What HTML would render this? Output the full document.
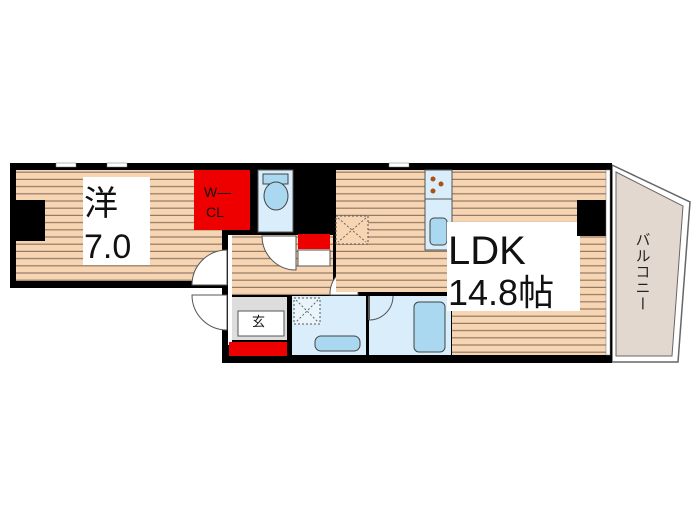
<!DOCTYPE html>
<html><head><meta charset="utf-8"><style>body{margin:0;background:#fff}svg{display:block}</style></head><body>
<svg width="700" height="525" viewBox="0 0 700 525" xmlns="http://www.w3.org/2000/svg" font-family="Liberation Sans, Noto Sans CJK JP, sans-serif">
<defs>
<pattern id="wood" width="10" height="7.2" patternUnits="userSpaceOnUse">
<rect width="10" height="7.2" fill="#f7d4b2"/><rect y="6" width="10" height="1.2" fill="#8f7a66"/>
</pattern>
</defs>
<polygon points="612,165 690,202 678,362 612,362" fill="#fff" stroke="#666" stroke-width="1.5"/>
<polygon points="616,172 683,206 672,356 616,356" fill="#e2d8cf" stroke="#666" stroke-width="1"/>
<text x="642" y="232" font-size="15" fill="#222" writing-mode="tb" letter-spacing="1">バルコニー</text>
<rect x="10" y="163" width="218" height="125" fill="#000"/>
<rect x="222" y="163" width="390" height="200" fill="#000"/>
<rect x="16" y="170" width="206" height="111" fill="url(#wood)"/>
<rect x="16" y="200" width="29" height="41" fill="#000"/>
<rect x="83" y="177" width="67" height="88" fill="#fff"/>
<text x="84" y="215" font-size="34" fill="#111">洋</text>
<text x="84" y="258" font-size="34" fill="#111">7.0</text>
<rect x="56" y="163" width="20" height="4" fill="#fff" stroke="#777" stroke-width=".5"/>
<rect x="107" y="163" width="20" height="4" fill="#fff" stroke="#777" stroke-width=".5"/>
<rect x="194" y="170" width="56" height="60" fill="#e00"/>
<text x="204" y="197" font-size="14" fill="#111">W—</text>
<text x="206" y="217" font-size="14" fill="#111">CL</text>
<rect x="258" y="170" width="35" height="62" fill="#d9eefa" stroke="#555" stroke-width="1"/>
<rect x="263" y="174" width="25" height="10" fill="#a9d8f0" stroke="#444"/>
<ellipse cx="276" cy="196" rx="12" ry="14" fill="#a9d8f0" stroke="#444"/>
<rect x="228" y="235" width="105" height="60" fill="url(#wood)"/>
<rect x="228" y="235" width="4" height="110" fill="#fff"/>
<rect x="298" y="234" width="32" height="15" fill="#e00"/>
<rect x="298" y="250" width="32" height="16" fill="#fff" stroke="#555"/>
<path d="M192,285 A35,35 0 0 1 227,250 L227,285 Z" fill="#fff" stroke="#555"/>
<path d="M262,236 A34,34 0 0 0 296,270 L296,236 Z" fill="#fff" stroke="#555"/>
<path d="M192,295 A35,35 0 0 0 227,330 L227,295 Z" fill="#fff" stroke="#555"/>
<path d="M330,295 A28,28 0 0 1 358,266 L358,295 Z" fill="#fff" stroke="#555"/>
<rect x="232" y="297" width="55" height="43" fill="#ddd"/>
<rect x="238" y="311" width="46" height="25" fill="#fff" stroke="#555"/>
<text x="252" y="326" font-size="13" fill="#111">玄</text>
<rect x="229" y="342" width="58" height="14" fill="#e00"/>
<rect x="292" y="296" width="74" height="59" fill="#d9eefa"/>
<rect x="294" y="298" width="26" height="26" fill="#e9f5fb" stroke="#555" stroke-dasharray="2,2"/>
<line x1="296" y1="300" x2="318" y2="322" stroke="#666" stroke-dasharray="2,2"/>
<line x1="318" y1="300" x2="296" y2="322" stroke="#666" stroke-dasharray="2,2"/>
<rect x="315" y="336" width="45" height="15" rx="6" fill="#a9d8f0" stroke="#444"/>
<rect x="369" y="296" width="82" height="59" fill="#d9eefa"/>
<line x1="369" y1="296" x2="369" y2="320" stroke="#555" stroke-width="2"/>
<path d="M369,320 A24,24 0 0 0 393,296" fill="none" stroke="#555"/>
<rect x="414" y="302" width="31" height="50" rx="5" fill="#a9d8f0" stroke="#444"/>
<rect x="336" y="170" width="270" height="122" fill="url(#wood)"/>
<rect x="452" y="292" width="154" height="63" fill="url(#wood)"/>
<rect x="336" y="216" width="32" height="28" fill="#f7d4b2" stroke="#555" stroke-dasharray="2,2"/>
<line x1="338" y1="218" x2="366" y2="242" stroke="#666" stroke-dasharray="2,2"/>
<line x1="366" y1="218" x2="338" y2="242" stroke="#666" stroke-dasharray="2,2"/>
<rect x="425" y="170" width="27" height="80" fill="#d9eefa" stroke="#555"/>
<line x1="425" y1="199" x2="452" y2="199" stroke="#555"/>
<circle cx="433" cy="179" r="2.5" fill="#b05010"/><circle cx="441" cy="184" r="2.5" fill="#b05010"/><circle cx="433" cy="191" r="2.5" fill="#b05010"/>
<rect x="430" y="218" width="17" height="27" rx="4" fill="#a9d8f0" stroke="#444"/>
<rect x="447" y="222" width="133" height="89" fill="#fff"/>
<text x="448" y="264" font-size="40" fill="#111">LDK</text>
<text x="448" y="305" font-size="36" fill="#111">14.8帖</text>
<rect x="577" y="200" width="30" height="36" fill="#000"/>
<rect x="389" y="163" width="20" height="4" fill="#fff" stroke="#777" stroke-width=".5"/>
<rect x="606" y="170" width="4" height="185" fill="#fff" stroke="#777" stroke-width=".5"/>
</svg>
</body></html>
